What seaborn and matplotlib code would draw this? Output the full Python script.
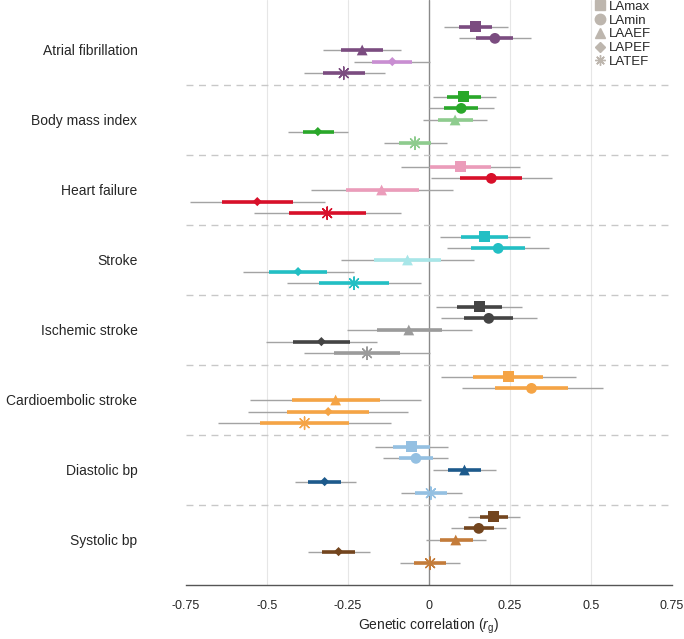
import numpy as np
import pandas as pd
import seaborn as sns
import matplotlib
matplotlib.use("Agg")
import matplotlib.pyplot as plt
from matplotlib.lines import Line2D

# traits and LA measures
traits = ["Atrial fibrillation", "Body mass index", "Heart failure", "Stroke",
          "Ischemic stroke", "Cardioembolic stroke", "Diastolic bp", "Systolic bp"]
measures = ["LAmax", "LAmin", "LAAEF", "LAPEF", "LATEF"]

# point estimates (rows = traits, cols = measures)
rg = [
    [0.143, 0.204, -0.206, -0.113, -0.263],
    [0.108, 0.100, 0.081, -0.343, -0.043],
    [0.098, 0.193, -0.146, -0.530, -0.314],
    [0.173, 0.214, -0.066, -0.404, -0.231],
    [0.156, 0.185, -0.062, -0.332, -0.191],
    [0.246, 0.317, -0.288, -0.311, -0.384],
    [-0.054, -0.040, 0.110, -0.322, 0.006],
    [0.200, 0.154, 0.083, -0.279, 0.004],
]
# inner interval (thick)
inner_lo = [
    [0.093, 0.145, -0.270, -0.175, -0.327],
    [0.057, 0.047, 0.028, -0.390, -0.091],
    [0.003, 0.096, -0.256, -0.639, -0.432],
    [0.100, 0.131, -0.168, -0.493, -0.338],
    [0.087, 0.108, -0.161, -0.421, -0.294],
    [0.136, 0.205, -0.424, -0.437, -0.522],
    [-0.112, -0.093, 0.059, -0.372, -0.042],
    [0.158, 0.108, 0.035, -0.329, -0.045],
]
inner_hi = [
    [0.196, 0.261, -0.142, -0.051, -0.196],
    [0.162, 0.153, 0.135, -0.294, 0.007],
    [0.193, 0.289, -0.031, -0.421, -0.195],
    [0.245, 0.297, 0.038, -0.314, -0.123],
    [0.227, 0.261, 0.040, -0.243, -0.089],
    [0.354, 0.431, -0.152, -0.184, -0.246],
    [0.003, 0.012, 0.162, -0.270, 0.057],
    [0.245, 0.200, 0.135, -0.228, 0.054],
]
# outer interval (thin)
outer_lo = [
    [0.046, 0.094, -0.327, -0.232, -0.387],
    [0.012, 0.000, -0.019, -0.434, -0.139],
    [-0.085, 0.007, -0.364, -0.738, -0.541],
    [0.034, 0.055, -0.270, -0.573, -0.437],
    [0.023, 0.037, -0.254, -0.502, -0.387],
    [0.037, 0.101, -0.552, -0.558, -0.651],
    [-0.166, -0.141, 0.012, -0.415, -0.087],
    [0.121, 0.068, -0.008, -0.374, -0.088],
]
outer_hi = [
    [0.243, 0.315, -0.085, 0.005, -0.137],
    [0.207, 0.200, 0.181, -0.250, 0.057],
    [0.280, 0.379, 0.074, -0.321, -0.086],
    [0.313, 0.372, 0.138, -0.232, -0.025],
    [0.289, 0.333, 0.134, -0.160, 0.003],
    [0.455, 0.537, -0.024, -0.064, -0.117],
    [0.060, 0.060, 0.207, -0.226, 0.103],
    [0.282, 0.239, 0.178, -0.183, 0.097],
]

dark = ["#7b4c80", "#2aa82a", "#d8102a", "#22bfc4", "#444444", "#f5a445", "#1d5a8c", "#73451e"]
light = ["#c98ed2", "#8ecc8e", "#eb9cba", "#a8e6e8", "#9b9b9b", "#f5a445", "#94c0e2", "#c47c3a"]
# which measures use the light shade
is_light = [
    [0, 0, 0, 1, 0],
    [0, 0, 1, 0, 1],
    [1, 0, 1, 0, 0],
    [0, 0, 1, 0, 0],
    [0, 0, 1, 0, 1],
    [0, 0, 0, 0, 0],
    [1, 1, 0, 0, 1],
    [0, 0, 1, 0, 1],
]

rows = []
for i, t in enumerate(traits):
    for j, m in enumerate(measures):
        rows.append({
            "trait": t, "measure": m, "rg": rg[i][j],
            "ilo": inner_lo[i][j], "ihi": inner_hi[i][j],
            "olo": outer_lo[i][j], "ohi": outer_hi[i][j],
            "ypos": i + (j - 2) * 0.166,
            "color": light[i] if is_light[i][j] else dark[i],
        })
df = pd.DataFrame(rows)

sns.set_style("white")
plt.rcParams["font.family"] = ["Liberation Sans", "DejaVu Sans"]
plt.rcParams["mathtext.fontset"] = "custom"
plt.rcParams["mathtext.rm"] = "Liberation Sans"
plt.rcParams["mathtext.it"] = "Liberation Sans:italic"

fig = plt.figure(figsize=(6.84, 6.39), dpi=100)
ax = fig.add_axes([0.272, 0.0845, 0.71, 0.9155])

# grid
for gx in [-0.5, -0.25, 0.25, 0.5]:
    ax.axvline(gx, color="#e6e6e6", lw=0.8, zorder=0)
ax.axvline(0, color="#8a8a8a", lw=1.0, zorder=1)
for k in range(len(traits) - 1):
    ax.axhline(k + 0.5, color="#c8c8c8", lw=1.0, ls=(0, (5, 4)), zorder=1)

# intervals
ax.hlines(df["ypos"], df["olo"], df["ohi"], color="#a3a3a3", lw=1.0, zorder=2)
ax.hlines(df["ypos"], df["ilo"], df["ihi"], color=df["color"], lw=2.6, zorder=3)

markers = {"LAmax": "s", "LAmin": "o", "LAAEF": "^", "LAPEF": "D", "LATEF": (8, 2, 0)}
sizes = {"LAmax": 60, "LAmin": 60, "LAAEF": 60, "LAPEF": 22, "LATEF": 80}
for m in measures:
    sub = df[df["measure"] == m]
    sns.scatterplot(data=sub, x="rg", y="ypos", hue="color",
                    palette={c: c for c in sub["color"].unique()},
                    marker=markers[m], s=sizes[m], linewidth=1.0 if m == "LATEF" else 0,
                    edgecolor=None if m != "LATEF" else "face",
                    legend=False, ax=ax, zorder=4)

ax.set_xlim(-0.75, 0.75)
ax.set_ylim(7.643, -0.714)
ax.set_xticks([-0.75, -0.5, -0.25, 0, 0.25, 0.5, 0.75])
ax.set_xticklabels(["-0.75", "-0.5", "-0.25", "0", "0.25", "0.5", "0.75"])
ax.set_yticks(range(len(traits)))
ax.set_yticklabels(traits, fontsize=10)
ax.tick_params(axis="y", length=0, pad=35)
ax.tick_params(axis="x", length=6, width=1, color="#555555", labelsize=9, pad=5, direction="out")
ax.set_xlabel(r"Genetic correlation ($r_{\mathrm{g}}$)", fontsize=10, labelpad=3)
ax.set_ylabel("")

for s in ["top", "left", "right"]:
    ax.spines[s].set_visible(False)
ax.spines["bottom"].set_color("#555555")
ax.spines["bottom"].set_linewidth(1.0)

handles = []
for m in measures:
    handles.append(Line2D([], [], ls="none", marker=markers[m],
                          markersize=7.5 if m != "LAPEF" else 5,
                          color="#bdb6ae", markeredgecolor="#bdb6ae", label=m))
ax.legend(handles=handles, loc="upper right", bbox_to_anchor=(0.957, 0.999),
          frameon=False, fontsize=9.5, handletextpad=0.15, labelspacing=0.12,
          handlelength=1.0, borderaxespad=0.0, borderpad=0.0)

fig.savefig("out.png", dpi=100)
